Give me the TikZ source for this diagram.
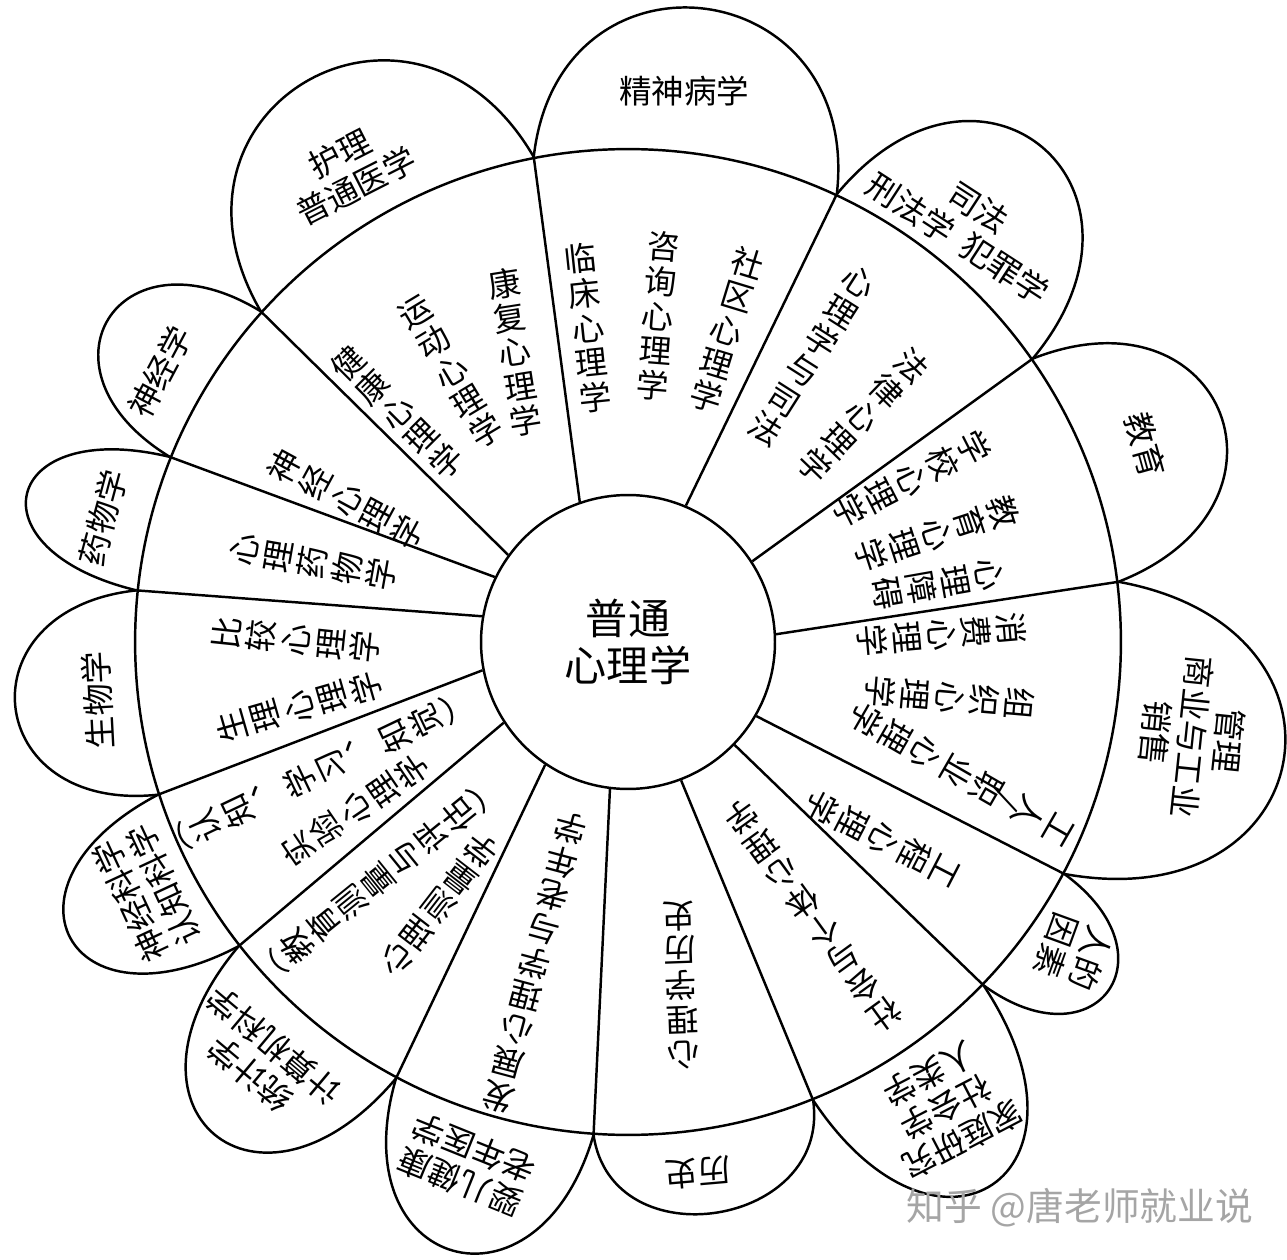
\documentclass[tikz,border=0pt]{standalone}
\usepackage{fontspec}
\setmainfont{Noto Sans CJK SC}
\newcommand\colfont{\fontsize{18.5pt}{19.8pt}\selectfont}
\newcommand\petfont{\fontsize{18.5pt}{21pt}\selectfont}
\newcommand\corefont{\fontsize{24pt}{27pt}\selectfont}
\newcommand\wmfont{\fontsize{21.5pt}{24pt}\selectfont}
\definecolor{wmgray}{RGB}{165,165,165}
\begin{document}
\begin{tikzpicture}[x=0.02cm,y=0.02cm,line width=1.4pt,
  col/.style={font=\colfont,align=center,inner sep=0pt},
  pet/.style={font=\petfont,align=center,inner sep=0pt}]
\useasboundingbox (0,0) rectangle (1287,1259);
\begin{scope}[shift={(628,617)}]
% circles
\node[circle,draw,minimum size=19.72cm,inner sep=0pt] (rim) at (0,0) {};
\node[circle,draw,minimum size=5.88cm,inner sep=0pt,font=\corefont,align=center] (core) at (0,0) {普通\\心理学};
% dividing lines
\draw (core.109.5) -- (rim.101.6);
\draw (core.67) -- (rim.65.5);
\draw (core.33) -- (rim.35.2);
\draw (core.3.5) -- (rim.7.6);
\draw (core.-30) -- (rim.-28.2);
\draw (core.-44) -- (rim.-44);
\draw (core.-69.5) -- (rim.-68.85);
\draw (core.-97.5) -- (rim.-94.6);
\draw (core.-124) -- (rim.-118);
\draw (core.-147) -- (rim.-142.3);
\draw (core.-169) -- (rim.-162.3);
\draw (core.170.3) -- (rim.174.5);
\draw (core.154.5) -- (rim.158.4);
\draw (core.144) -- (rim.138.7);
% petals
\draw (rim.138.7) .. controls +(120.15:237) and +(120.15:237) .. (rim.101.6);
\draw (rim.101.6) .. controls +(83.55:224) and +(83.55:224) .. (rim.65.5);
\draw (rim.65.5) .. controls +(50.35:224) and +(50.35:224) .. (rim.35.2);
\draw (rim.35.2) .. controls +(21.4:207) and +(21.4:207) .. (rim.7.6);
\draw (rim.7.6) .. controls +(-10.3:260) and +(-10.3:260) .. (rim.-28.2);
\draw (rim.-28.2) .. controls +(-36.1:139) and +(-36.1:139) .. (rim.-44);
\draw (rim.-44) .. controls +(-56.4:227) and +(-56.4:227) .. (rim.-68.85);
\draw (rim.-68.85) .. controls +(-81.7:128) and +(-81.7:128) .. (rim.-94.6);
\draw (rim.-94.6) .. controls +(-106.3:200) and +(-106.3:200) .. (rim.-118);
\draw (rim.-118) .. controls +(-130.15:213) and +(-130.15:213) .. (rim.-142.3);
\draw (rim.-142.3) .. controls +(-152.3:193) and +(-152.3:193) .. (rim.-162.3);
\draw (rim.-162.3) .. controls +(-173.9:177) and +(-173.9:177) .. (rim.174.5);
\draw (rim.174.5) .. controls +(166.45:173) and +(166.45:173) .. (rim.158.4);
\draw (rim.158.4) .. controls +(148.55:167) and +(148.55:167) .. (rim.138.7);
% sector columns
\node[col,rotate=6] (s1) at (-40,314) {临\\床\\心\\理\\学};
\node[col,rotate=-4.6] (s2) at (30,326) {咨\\询\\心\\理\\学};
\node[col,rotate=-17] (s3) at (99,312) {社\\区\\心\\理\\学};
\node[col,rotate=9] (s4) at (-113,290) {康\\复\\心\\理\\学};
\node[col,rotate=31] (s5) at (-177,270) {运\\动\\心\\理\\学};
\node[col,rotate=45] (s6) at (-231,230) {健\\康\\心\\理\\学};
\node[col,rotate=61.6] (s7) at (-282,143) {神\\经\\心\\理\\学};
\node[col,rotate=80] (s8) at (-315,80) {心\\理\\药\\物\\学};
\node[col,rotate=84] (s9) at (-332,2) {比\\较\\心\\理\\学};
\node[col,rotate=106] (s10) at (-329,-65) {生\\理\\心\\理\\学};
\node[col,rotate=115.5] (s11) at (-304,-128) {︵\\认\\知\\︑\\学\\习\\︑\\知\\觉\\︶};
\node[col,rotate=124.3] (s12) at (-273,-168) {实\\验\\心\\理\\学};
\node[col,rotate=129] (s13) at (-243,-233) {︵\\教\\育\\测\\量\\与\\评\\估\\︶};
\node[col,rotate=142.3] (s14) at (-189,-263) {心\\理\\测\\量\\学};
\node[col,rotate=165] (s15) at (-93,-321) {发\\展\\心\\理\\学\\与\\老\\年\\学};
\node[col,rotate=-178] (s16) at (53,-343) {心\\理\\学\\历\\史};
\node[col,rotate=-144] (s17) at (185,-274) {社\\会\\与\\个\\体\\心\\理\\学};
\node[col,rotate=-117.3] (s18) at (254,-197) {工\\程\\心\\理\\学};
\node[col,rotate=-120] (s19) at (333,-132) {工\\人\\[-6pt]/\\[-6pt]职\\业\\心\\理\\学};
\node[col,rotate=-95] (s20) at (322,-56) {组\\织\\心\\理\\学};
\node[col,rotate=-85] (s21) at (314,7) {消\\费\\心\\理\\学};
\node[col,rotate=-80] (s22) at (310,58) {心\\理\\障\\碍};
\node[col,rotate=-72] (s23) at (309,108) {教\\育\\心\\理\\学};
\node[col,rotate=-63] (s24) at (284,163) {学\\校\\心\\理\\学};
\node[col,rotate=-44] (s25) at (235,226) {法\\律\\心\\理\\学};
\node[col,rotate=-32.5] (s26) at (184,286) {心\\理\\学\\与\\司\\法};
% petal labels
\node[pet] (p1) at (56,551) {精神病学};
\node[pet,rotate=27] (p2) at (-280,472) {护理\\普通医学};
\node[pet,rotate=-33] (p3) at (340,419) {司法\\刑法学\ \ 犯罪学};
\node[pet,rotate=-74.5] (p4) at (517,197) {教育};
\node[pet,rotate=-96] (p5) at (564,-95) {管理\\商业与工业\\销售};
\node[pet,rotate=-110] (p6) at (446,-310) {人的\\因素};
\node[pet,rotate=-152.5] (p7) at (318,-465) {家庭研究\\社会学\\人类学};
\node[pet,rotate=-175] (p8) at (70,-531) {历史};
\node[pet,rotate=158] (p9) at (-161,-523) {婴儿健康\\老年医学};
\node[pet,rotate=140] (p10) at (-366,-418) {统计学\\计算机科学};
\node[pet,rotate=115] (p11) at (-481,-251) {神经科学\\认知科学};
\node[pet,rotate=93] (p12) at (-530,-58) {生物学};
\node[pet,rotate=75] (p13) at (-525,124) {药物学};
\node[pet,rotate=62] (p14) at (-468,270) {神经学};
% watermark
\node[font=\wmfont,text=wmgray,inner sep=0pt] (wm) at (452,-566) {知乎 @唐老师就业说};
\end{scope}
\end{tikzpicture}
\end{document}
